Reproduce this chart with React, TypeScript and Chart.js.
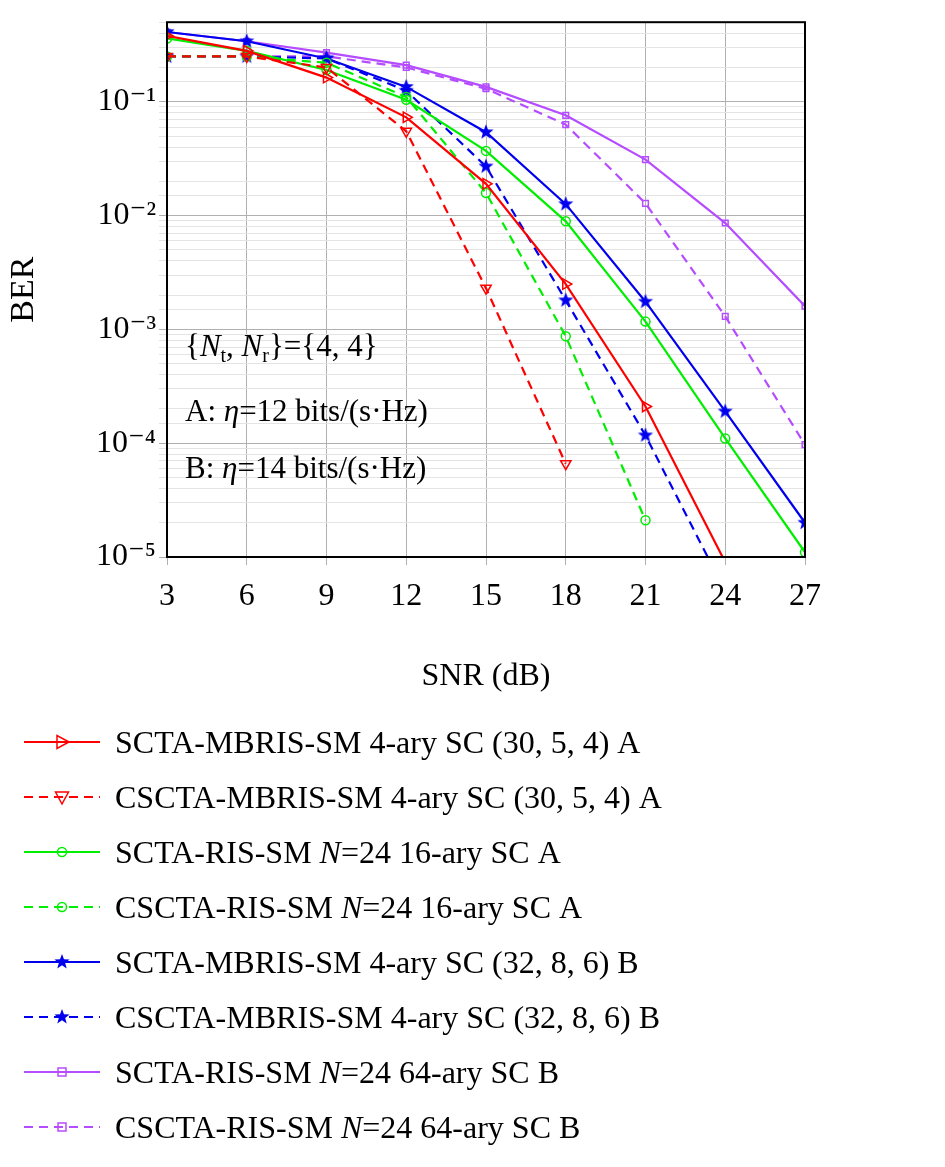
import React, { useEffect, useRef } from "react";
import { Chart, registerables } from "chart.js";
Chart.register(...registerables);

const snr = [3, 6, 9, 12, 15, 18, 21, 24, 27];
const redSolid = [0.38, 0.28, 0.163, 0.073, 0.019, 0.0025, 2.1e-4, 9e-6, null];
const redDash = [0.25, 0.25, 0.2, 0.055, 0.0023, 6.6e-5, null, null, null];
const greenSolid = [0.36, 0.28, 0.19, 0.104, 0.037, 0.0089, 0.00117, 1.1e-4, 1.1e-5];
const greenDash = [0.25, 0.25, 0.22, 0.11, 0.0158, 8.7e-4, 2.1e-5, null, null];
const blueSolid = [0.41, 0.34, 0.24, 0.135, 0.054, 0.0126, 0.00175, 1.9e-4, 2.0e-5];
const blueDash = [0.25, 0.25, 0.24, 0.125, 0.027, 0.0018, 1.17e-4, 5e-6, null];
const purpleSolid = [0.41, 0.34, 0.27, 0.21, 0.135, 0.076, 0.031, 0.0086, 0.0016];
const purpleDash = [0.25, 0.25, 0.25, 0.2, 0.13, 0.063, 0.0128, 0.0013, 9.7e-5];
const labels = [
  "SCTA-MBRIS-SM 4-ary SC (30, 5, 4) A",
  "CSCTA-MBRIS-SM 4-ary SC (30, 5, 4) A",
  "SCTA-RIS-SM |N|=24 16-ary SC A",
  "CSCTA-RIS-SM |N|=24 16-ary SC A",
  "SCTA-MBRIS-SM 4-ary SC (32, 8, 6) B",
  "CSCTA-MBRIS-SM 4-ary SC (32, 8, 6) B",
  "SCTA-RIS-SM |N|=24 64-ary SC B",
  "CSCTA-RIS-SM |N|=24 64-ary SC B",
];

const FONT = "'Liberation Serif', 'DejaVu Serif', serif";
const RED = "#ff0000", GREEN = "#00ee00", BLUE = "#0000ee", PURPLE = "#b54cff";

function starPath(x: CanvasRenderingContext2D, cx: number, cy: number, r: number) {
  x.beginPath();
  for (let i = 0; i < 10; i++) {
    const rr = i % 2 === 0 ? r : r * 0.42;
    const a = -Math.PI / 2 + (i * Math.PI) / 5;
    const px = cx + rr * Math.cos(a), py = cy + rr * Math.sin(a);
    i === 0 ? x.moveTo(px, py) : x.lineTo(px, py);
  }
  x.closePath();
}

function starCanvas(color: string, r: number) {
  const c = document.createElement("canvas");
  c.width = c.height = r * 2 + 2;
  const x = c.getContext("2d")!;
  x.fillStyle = color;
  starPath(x, r + 1, r + 1, r);
  x.fill();
  return c;
}

function drawMarker(ctx: CanvasRenderingContext2D, kind: string, color: string, x: number, y: number) {
  ctx.save();
  ctx.strokeStyle = color;
  ctx.fillStyle = color;
  ctx.lineWidth = 1.5;
  ctx.beginPath();
  if (kind === "tri-r") {
    ctx.moveTo(x + 7, y); ctx.lineTo(x - 5, y - 6.5); ctx.lineTo(x - 5, y + 6.5); ctx.closePath(); ctx.stroke();
  } else if (kind === "tri-d") {
    ctx.moveTo(x, y + 7); ctx.lineTo(x - 6.5, y - 5); ctx.lineTo(x + 6.5, y - 5); ctx.closePath(); ctx.stroke();
  } else if (kind === "circle") {
    ctx.arc(x, y, 4.5, 0, Math.PI * 2); ctx.stroke();
  } else if (kind === "star") {
    starPath(ctx, x, y, 8); ctx.fill();
  } else {
    ctx.rect(x - 4, y - 4, 8, 8); ctx.stroke();
  }
  ctx.restore();
}

function drawRich(ctx: CanvasRenderingContext2D, text: string, x: number, y: number, size: number) {
  const parts = text.split("|");
  let cx = x;
  parts.forEach((p, i) => {
    ctx.font = (i % 2 === 1 ? "italic " : "") + `${size}px ${FONT}`;
    ctx.fillText(p, cx, y);
    cx += ctx.measureText(p).width;
  });
}

export default function App() {
  const ref = useRef<HTMLCanvasElement>(null);
  useEffect(() => {
    const star = starCanvas(BLUE, 8);
    const mk = (data: any[], color: string, dash: boolean, style: any, rot = 0, radius = 5, kind = "") => ({
      data,
      kind,
      borderColor: color,
      backgroundColor: "transparent",
      borderWidth: 2.2,
      borderDash: dash ? [9, 6] : [],
      pointStyle: style,
      rotation: rot,
      pointRadius: radius,
      pointBorderWidth: 1.5,
      pointBackgroundColor: "transparent",
      pointBorderColor: color,
      spanGaps: false,
    });
    const datasets = [
      mk(redSolid, RED, false, "triangle", 90, 6, "tri-r"),
      mk(redDash, RED, true, "triangle", 180, 6, "tri-d"),
      mk(greenSolid, GREEN, false, "circle", 0, 4.5, "circle"),
      mk(greenDash, GREEN, true, "circle", 0, 4.5, "circle"),
      mk(blueSolid, BLUE, false, star, 0, 8, "star"),
      mk(blueDash, BLUE, true, star, 0, 8, "star"),
      mk(purpleSolid, PURPLE, false, "rect", 0, 4, "rect"),
      mk(purpleDash, PURPLE, true, "rect", 0, 4, "rect"),
    ];
    const sup: Record<string, string> = { "-1": "⁻¹", "-2": "⁻²", "-3": "⁻³", "-4": "⁻⁴", "-5": "⁻⁵" };
    const extras = {
      id: "extras",
      afterDraw(chart: any) {
        const ctx = chart.ctx as CanvasRenderingContext2D;
        const a = chart.chartArea;
        ctx.save();
        ctx.strokeStyle = "#000";
        ctx.lineWidth = 2;
        ctx.strokeRect(a.left, a.top, a.right - a.left, a.bottom - a.top);
        ctx.fillStyle = "#000";
        ctx.textBaseline = "alphabetic";
        const s = 31;
        let x = 185, y = 356;
        const seg = (t: string, it = false, sz = s, dy = 0) => {
          ctx.font = (it ? "italic " : "") + `${sz}px ${FONT}`;
          ctx.fillText(t, x, y + dy);
          x += ctx.measureText(t).width;
        };
        seg("{"); seg("N", true); seg("t", false, 20, 6); seg(", "); seg("N", true); seg("r", false, 20, 6); seg("}={4, 4}");
        x = 185; y = 421;
        seg("A: "); seg("η", true); seg("=12 bits/(s·Hz)");
        x = 185; y = 478;
        seg("B: "); seg("η", true); seg("=14 bits/(s·Hz)");
        datasets.forEach((d, i) => {
          const yy = 742 + i * 55;
          ctx.strokeStyle = d.borderColor;
          ctx.lineWidth = 2.2;
          ctx.setLineDash(d.borderDash as number[]);
          ctx.beginPath();
          ctx.moveTo(24, yy); ctx.lineTo(100, yy); ctx.stroke();
          ctx.setLineDash([]);
          ctx.fillStyle = "#000";
          drawRich(ctx, labels[i], 115, yy + 11, 32);
          drawMarker(ctx, d.kind, d.borderColor, 62, yy);
        });
        ctx.restore();
      },
    };
    const chart = new Chart(ref.current!, {
      type: "line",
      data: { labels: snr, datasets: datasets as any },
      plugins: [extras],
      options: {
        animation: false,
        responsive: false,
        layout: { padding: { left: 0, top: 8, right: 140, bottom: 467 } },
        plugins: { legend: { display: false }, tooltip: { enabled: false } },
        scales: {
          x: {
            type: "linear", min: 3, max: 27,
            ticks: { stepSize: 3, color: "#000", font: { family: FONT, size: 32 }, padding: 12 },
            grid: { color: "#b0b0b0", lineWidth: 1 },
            border: { display: false },
            title: { display: true, text: "SNR (dB)", color: "#000", font: { family: FONT, size: 32 } },
            afterFit: (s: any) => { s.height = 143; },
          },
          y: {
            type: "logarithmic", min: 1e-5, max: 0.5,
            ticks: {
              color: "#000", font: { family: FONT, size: 32 }, autoSkip: false,
              callback: (v: any) => {
                const l = Math.log10(v);
                return Math.abs(l - Math.round(l)) < 1e-6 ? "10" + (sup[String(Math.round(l))] || "") : "";
              },
            },
            grid: {
              color: (c: any) => {
                const v = c.tick?.value;
                if (!v) return "#ddd";
                const l = Math.log10(v);
                return Math.abs(l - Math.round(l)) < 1e-6 ? "#b0b0b0" : "#e4e4e4";
              },
            },
            border: { display: false },
            title: { display: true, text: "BER", color: "#000", font: { family: FONT, size: 34 } },
            afterFit: (s: any) => { s.width = 167; },
          },
        },
      },
    });
    return () => chart.destroy();
  }, []);
  return (
    <div style={{ position: "absolute", left: 0, top: 0, width: 945, height: 1167, background: "#fff" }}>
      <canvas ref={ref} width={945} height={1167} style={{ width: 945, height: 1167 }} />
    </div>
  );
}
